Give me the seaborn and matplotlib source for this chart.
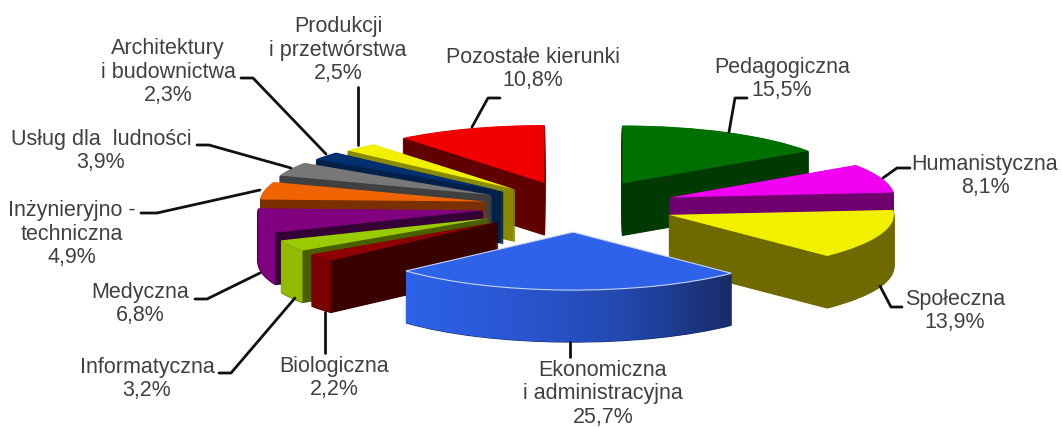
import numpy as np
import matplotlib
matplotlib.use("Agg")
import matplotlib.pyplot as plt
import seaborn as sns
from matplotlib.patches import PathPatch
from matplotlib.path import Path

categories = ["Pedagogiczna", "Humanistyczna", "Społeczna", "Ekonomiczna\ni administracyjna",
              "Biologiczna", "Informatyczna", "Medyczna", "Inżynieryjno -\ntechniczna",
              "Usług dla  ludności", "Architektury\ni budownictwa", "Produkcji\ni przetwórstwa",
              "Pozostałe kierunki"]
shares = [15.5, 8.1, 13.9, 25.7, 2.2, 3.2, 6.8, 4.9, 3.9, 2.3, 2.5, 10.8]
share_labels = ["15,5%", "8,1%", "13,9%", "25,7%", "2,2%", "3,2%", "6,8%", "4,9%", "3,9%", "2,3%", "2,5%", "10,8%"]

top_colors = ["#007000", "#F000F0", "#F0F000", "#2E62E8", "#8E0000", "#99CC00",
              "#800080", "#F06400", "#777777", "#003070", "#F0F000", "#F00000"]
cut_colors = ["#003A00", "#700070", "#6E6A00", "#1A3070", "#3A0000", "#4A6000",
              "#350035", "#7A3000", "#404040", "#00204A", "#8A8A00", "#600000"]
rim_colors = ["#003A00", "#700070", "#6E6A00", "#2E62E8", "#7A0000", "#94BA00",
              "#800080", "#7A3000", "#404040", "#00204A", "#8A8A00", "#600000"]
# painter's order, back to front
draw_order = [1, 2, 3, 12, 11, 10, 9, 8, 7, 6, 5, 4]
explode = [0.44, 0.44, 0.44, 0.45, 0.44, 0.44, 0.42, 0.41, 0.42, 0.41, 0.395, 0.42]

# pie geometry in pixels
CX, CY = 576, 206
RX, RY = 225, 58
DEPTH = 52
W, H = 1062, 428

label_pos = [(782, 79), (985, 176), (955, 311), (603, 394), (334, 378), (147, 379),
             (140, 304), (72, 234), (101, 151), (168, 72), (338, 50), (533, 69)]
leaders = [[(747, 98), (735, 98), (729, 132)],
           [(910, 168), (897, 168), (883, 178)],
           [(902, 307), (891, 307), (880, 286)],
           [(570, 342), (570, 357)],
           [(325, 312), (325, 353)],
           [(219, 373), (231, 373), (295, 298)],
           [(195, 299), (207, 299), (260, 273)],
           [(141, 213), (157, 213), (260, 190)],
           [(197, 145), (209, 145), (291, 168)],
           [(241, 78), (253, 78), (326, 154)],
           [(358, 87), (358, 145)],
           [(500, 98), (488, 98), (472, 127)]]

sns.set_theme(style="white")
plt.rcParams["font.family"] = ["Liberation Sans", "DejaVu Sans"]

fig = plt.figure(figsize=(W / 100, H / 100), dpi=100)
ax = fig.add_axes([0, 0, 1, 1])


def draw_layer(offset, colors, z, lw=0):
    wedges, _ = ax.pie(shares, explode=explode, colors=sns.color_palette(colors),
                       startangle=90, counterclock=False, center=(0, -offset / RY))
    for w, order in zip(wedges, draw_order):
        w.set_zorder(order * 10 + z)
        w.set_edgecolor(w.get_facecolor())
        w.set_linewidth(lw)
    return wedges


def rim_path(w):
    # front part of the outer rim, swept down by the slice depth
    th = np.radians(np.linspace(w.theta1, w.theta2, 200))
    th = th[np.sin(th) <= 0.001]
    if len(th) < 2:
        return None
    x = w.center[0] + w.r * np.cos(th)
    y = w.center[1] + w.r * np.sin(th)
    verts = np.r_[np.c_[x, y], np.c_[x, y - DEPTH / RY][::-1], [[x[0], y[0]]]]
    return Path(verts)


for d in range(DEPTH, 0, -1):
    # small edge so the thin wedge tips stack up solid
    draw_layer(d, cut_colors, 1, lw=0.8)
tops = draw_layer(0, top_colors, 5)

for w, color, order in zip(tops, rim_colors, draw_order):
    path = rim_path(w)
    if path is None:
        continue
    if order == 12:
        # the big slice has a shaded rim, light on the left, dark on the right
        cmap = sns.blend_palette(["#2E62E8", "#2A56D2", "#2348AE", "#182C68"], as_cmap=True)
        clip = PathPatch(path, transform=ax.transData)
        bx = path.vertices[:, 0]
        by = path.vertices[:, 1]
        im = ax.imshow(np.linspace(0, 1, 256)[None, :], cmap=cmap, aspect="auto",
                       extent=(bx.min(), bx.max(), by.min(), by.max()), zorder=order * 10 + 3)
        im.set_clip_path(clip)
    else:
        ax.add_patch(PathPatch(path, facecolor=color, edgecolor="none", zorder=order * 10 + 3))

# thin light outline around the big slice
tops[3].set_edgecolor("#C8D4F4")
tops[3].set_linewidth(0.8)

ax.set_aspect("auto")
ax.set_xlim(-CX / RX, (W - CX) / RX)
ax.set_ylim((CY - H) / RY, CY / RY)
ax.axis("off")

# labels and leader lines live in a pixel sized overlay
ov = fig.add_axes([0, 0, 1, 1], facecolor="none")
ov.set_xlim(0, W)
ov.set_ylim(H, 0)
ov.axis("off")
for name, pct, (x, y), line in zip(categories, share_labels, label_pos, leaders):
    ov.text(x, y, name + "\n" + pct, ha="center", va="center",
            fontsize=15.5, color="#404040", linespacing=1.13)
    ov.plot(*zip(*line), color="#111111", lw=2, solid_joinstyle="round")

fig.savefig("out.png", dpi=100, facecolor="white")
